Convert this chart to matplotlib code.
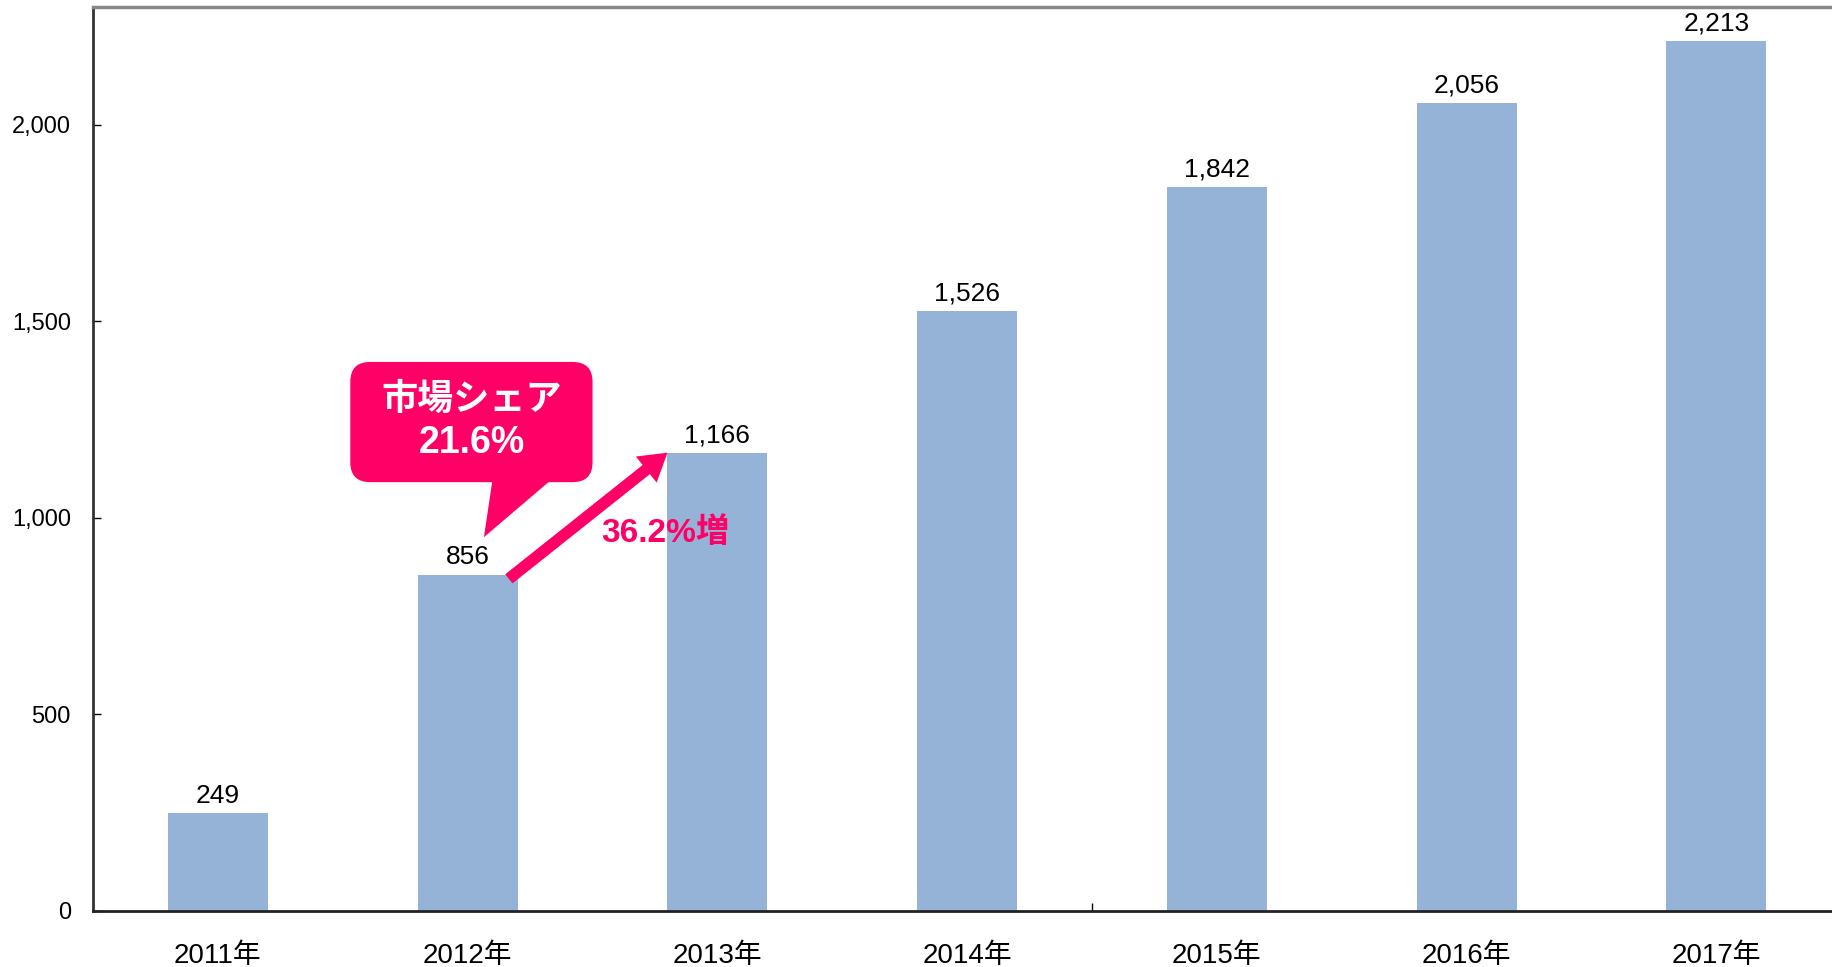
import matplotlib
matplotlib.use('Agg')
import matplotlib.pyplot as plt
from matplotlib.patches import FancyBboxPatch, Polygon

plt.rcParams['font.family'] = ['Liberation Sans', 'Noto Sans CJK JP']

# Data
years = ['2011年', '2012年', '2013年', '2014年', '2015年', '2016年', '2017年']
values = [249, 856, 1166, 1526, 1842, 2056, 2213]
yticks = [0, 500, 1000, 1500, 2000]

bar_color = '#95B3D7'
pink = '#FF0066'

fig = plt.figure(figsize=(18.32, 9.67), dpi=100)
ax = fig.add_axes([0.0508, 0.058, 0.9492, 0.9347])

x = list(range(len(years)))
ax.bar(x, values, width=0.4, color=bar_color, zorder=2)

# value labels
for xi, v in zip(x, values):
    ax.annotate(f'{v:,}', xy=(xi, v), xytext=(0, 4), textcoords='offset points',
                ha='center', va='bottom', fontsize=19, color='#000000')

ax.set_xlim(-0.5, 6.463)
ax.set_ylim(0, 2300)

ax.set_yticks(yticks)
ax.set_yticklabels([f'{t:,}' for t in yticks])
ax.tick_params(axis='y', direction='in', length=6, width=1, labelsize=17, pad=16)

# x labels drawn as text, single inner tick at the centre of the axis
ax.set_xticks([3.5])
ax.set_xticklabels([''])
ax.tick_params(axis='x', direction='in', length=6, width=1)
for xi, lab in zip(x, years):
    ax.annotate(lab, xy=(xi, 0), xytext=(0, -23), textcoords='offset points',
                ha='center', va='top', fontsize=20)

ax.spines['right'].set_visible(False)
ax.spines['top'].set_color('#888888')
ax.spines['top'].set_linewidth(2.5)
ax.spines['left'].set_color('#333333')
ax.spines['left'].set_linewidth(2)
ax.spines['bottom'].set_color('#222222')
ax.spines['bottom'].set_linewidth(2)

# callout bubble
box_x0, box_x1 = 0.53, 1.50
box_y0, box_y1 = 1091, 1397
bubble = FancyBboxPatch((box_x0, box_y0), box_x1 - box_x0, box_y1 - box_y0,
                        boxstyle='round,pad=0,rounding_size=0.08',
                        mutation_aspect=635, facecolor=pink, edgecolor='none', zorder=4)
ax.add_patch(bubble)
tail = Polygon([(1.10, 1100), (1.34, 1100), (1.065, 951)], closed=True,
               facecolor=pink, edgecolor='none', zorder=4)
ax.add_patch(tail)
ax.text((box_x0 + box_x1) / 2, 1300, '市場シェア', ha='center', va='center',
        fontsize=26, fontweight='bold', color='white', zorder=5)
ax.text((box_x0 + box_x1) / 2, 1190, '21.6%', ha='center', va='center',
        fontsize=27, fontweight='bold', color='white', zorder=5)

# growth arrow
ax.annotate('', xy=(1.80, 1166), xytext=(1.165, 845),
            arrowprops=dict(arrowstyle='simple,head_length=0.65,head_width=0.8,tail_width=0.28',
                            mutation_scale=30, color=pink, lw=0, shrinkA=0, shrinkB=0),
            zorder=5)
ax.text(1.79, 962, '36.2%増', ha='center', va='center', fontsize=24,
        fontweight='bold', color=pink, zorder=5)

fig.savefig('out.png', dpi=100, facecolor='white')
